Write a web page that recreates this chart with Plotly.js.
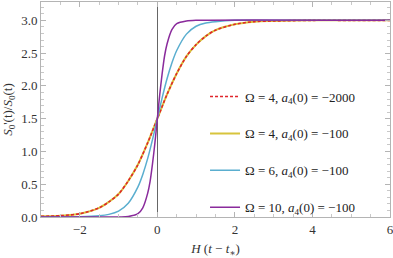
<!DOCTYPE html>
<html><head><meta charset="utf-8">
<script src="https://cdn.plot.ly/plotly-3.0.1.min.js"></script>
<style>html,body{margin:0;padding:0;background:#fff;}#chart{width:393px;height:258px;}</style>
</head><body><div id="chart"></div>
<script>
// Series: Omega=4, a4(0)=-2000 (red dashed) and Omega=4, a4(0)=-100 (yellow)
const tOmega4 = [-3, -2.5, -2, -1.5, -1.25, -1, -0.75, -0.5, -0.25, 0, 0.25, 0.5, 0.75, 1, 1.25, 1.5, 2, 2.5, 3, 4, 5, 6];
const yOmega4a = [0.01, 0.02, 0.05, 0.14, 0.23, 0.35, 0.55, 0.80, 1.13, 1.5, 1.87, 2.19, 2.45, 2.63, 2.76, 2.85, 2.94, 2.98, 2.99, 3.0, 3.0, 3.0];
const yOmega4b = [0.01, 0.02, 0.05, 0.14, 0.23, 0.35, 0.55, 0.80, 1.13, 1.5, 1.87, 2.19, 2.45, 2.63, 2.76, 2.85, 2.94, 2.98, 2.99, 3.0, 3.0, 3.0];
// Omega=6
const tOmega6 = [-3, -2, -1.5, -1.25, -1, -0.75, -0.5, -0.375, -0.25, -0.125, 0, 0.125, 0.25, 0.375, 0.5, 0.75, 1, 1.25, 1.5, 2, 3, 6];
const yOmega6 = [0.0, 0.003, 0.018, 0.04, 0.09, 0.21, 0.46, 0.65, 0.89, 1.18, 1.5, 1.82, 2.11, 2.35, 2.54, 2.79, 2.91, 2.96, 2.98, 3.0, 3.0, 3.0];
// Omega=10
const tOmega10 = [-3, -1, -0.75, -0.5, -0.375, -0.25, -0.1875, -0.125, -0.0625, 0, 0.0625, 0.125, 0.1875, 0.25, 0.375, 0.5, 0.75, 1, 6];
const yOmega10 = [0.0, 0.001, 0.007, 0.05, 0.14, 0.36, 0.54, 0.81, 1.13, 1.5, 1.87, 2.19, 2.46, 2.64, 2.86, 2.95, 2.99, 3.0, 3.0];

const names = [
  "Ω = 4, <i>a</i><sub>4</sub>(0) = −2000",
  "Ω = 4, <i>a</i><sub>4</sub>(0) = −100",
  "Ω = 6, <i>a</i><sub>4</sub>(0) = −100",
  "Ω = 10, <i>a</i><sub>4</sub>(0) = −100"
];
const xTickVals = [-2, 0, 2, 4, 6];
const yTickVals = [0, 0.5, 1, 1.5, 2, 2.5, 3];

const serif = "'Liberation Serif', 'Times New Roman', 'DejaVu Serif', serif";
const traces = [
  {x: tOmega4, y: yOmega4b, name: names[1], legendrank: 2, legendgroup: "b", mode: "lines",
   line: {color: "#d7c43c", width: 2, shape: "spline", smoothing: 0.8}},
  {x: tOmega4, y: yOmega4a, name: names[0], legendrank: 1, legendgroup: "a", mode: "lines",
   line: {color: "#e0262c", width: 1.6, dash: "3px,2px", shape: "spline", smoothing: 0.8}},
  {x: tOmega6, y: yOmega6, name: names[2], legendrank: 3, legendgroup: "c", mode: "lines",
   line: {color: "#5aaecf", width: 1.5, shape: "spline", smoothing: 0.8}},
  {x: tOmega10, y: yOmega10, name: names[3], legendrank: 4, legendgroup: "d", mode: "lines",
   line: {color: "#8a2b9c", width: 1.5, shape: "spline", smoothing: 0.8}}
];

const axisCommon = {
  showline: true, linecolor: "#b4b4b4", linewidth: 1, mirror: "allticks",
  ticks: "inside", ticklen: 5, tickcolor: "#b4b4b4", tickwidth: 1,
  showgrid: false, ticklabeloverflow: "allow",
  tickfont: {family: serif, size: 13, color: "#333"}
};

const layout = {
  width: 393, height: 258,
  font: {family: serif, size: 13, color: "#333"},
  margin: {l: 41, r: 3, t: 2, b: 41},
  paper_bgcolor: "#fff", plot_bgcolor: "#fff",
  showlegend: true,
  legend: {x: 0.47, y: 0.63, xanchor: "left", yanchor: "top", bgcolor: "rgba(0,0,0,0)",
           font: {family: serif, size: 13, color: "#222"}, traceorder: "grouped",
           tracegroupgap: 17, itemwidth: 30},
  xaxis: Object.assign({}, axisCommon, {
    range: [-3, 6], tickvals: xTickVals, zeroline: true, zerolinecolor: "#666", zerolinewidth: 1,
    minor: {dtick: 0.5, ticks: "inside", ticklen: 3, tickcolor: "#c8c8c8"},
    title: {text: "<i>H</i> (<i>t</i> − <i>t</i><sub>∗</sub>)", font: {family: serif, size: 13, color: "#333"}, standoff: 10}
  }),
  yaxis: Object.assign({}, axisCommon, {
    range: [0, 3.28], tickvals: yTickVals, tickformat: ".1f", zeroline: false,
    minor: {dtick: 0.1, ticks: "inside", ticklen: 3, tickcolor: "#c8c8c8"},
    title: {text: "<i>S</i><sub>0</sub>'(t)/<i>S</i><sub>0</sub>(t)", font: {family: serif, size: 13, color: "#333"}, standoff: 6}
  })
};
Plotly.newPlot("chart", traces, layout, {displayModeBar: false, staticPlot: true});
</script></body></html>
